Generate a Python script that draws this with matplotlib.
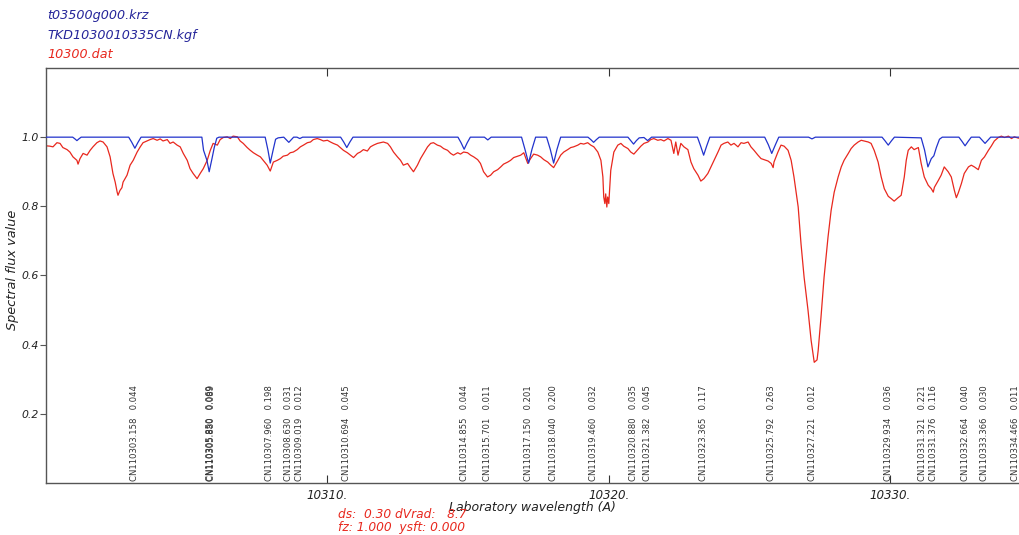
import matplotlib
matplotlib.use('Agg')
import matplotlib.pyplot as plt

plt.rcParams['font.family'] = ['DejaVu Sans']

red_wave = [
    10300.00, 10300.14, 10300.25, 10300.39, 10300.50, 10300.60, 10300.75, 10300.85, 10300.96, 10301.10,
    10301.14, 10301.21, 10301.32, 10301.46, 10301.57, 10301.67, 10301.81, 10301.92, 10302.03, 10302.17,
    10302.28, 10302.38, 10302.46, 10302.53, 10302.56, 10302.63, 10302.70, 10302.74, 10302.88, 10302.99,
    10303.10, 10303.24, 10303.35, 10303.45, 10303.59, 10303.70, 10303.81, 10303.95, 10304.06, 10304.16,
    10304.31, 10304.41, 10304.52, 10304.66, 10304.77, 10304.88, 10305.02, 10305.12, 10305.23, 10305.37,
    10305.48, 10305.59, 10305.73, 10305.84, 10305.94, 10306.09, 10306.19, 10306.30, 10306.44, 10306.55,
    10306.65, 10306.80, 10306.90, 10307.01, 10307.15, 10307.26, 10307.37, 10307.51, 10307.62, 10307.72,
    10307.86, 10307.97, 10308.08, 10308.22, 10308.33, 10308.43, 10308.58, 10308.68, 10308.79, 10308.93,
    10309.04, 10309.15, 10309.29, 10309.40, 10309.50, 10309.64, 10309.75, 10309.86, 10310.00, 10310.11,
    10310.21, 10310.36, 10310.46, 10310.57, 10310.71, 10310.82, 10310.93, 10311.07, 10311.17, 10311.28,
    10311.42, 10311.53, 10311.64, 10311.78, 10311.89, 10311.99, 10312.14, 10312.24, 10312.35, 10312.49,
    10312.60, 10312.70, 10312.85, 10312.95, 10313.06, 10313.20, 10313.31, 10313.42, 10313.56, 10313.67,
    10313.77, 10313.91, 10314.02, 10314.13, 10314.27, 10314.38, 10314.48, 10314.63, 10314.73, 10314.84,
    10314.98, 10315.09, 10315.20, 10315.34, 10315.44, 10315.55, 10315.69, 10315.80, 10315.91, 10316.05,
    10316.16, 10316.26, 10316.41, 10316.51, 10316.62, 10316.76, 10316.87, 10316.98, 10317.12, 10317.22,
    10317.33, 10317.47, 10317.58, 10317.69, 10317.83, 10317.94, 10318.04, 10318.19, 10318.29, 10318.40,
    10318.54, 10318.65, 10318.75, 10318.90, 10319.00, 10319.11, 10319.25, 10319.36, 10319.47, 10319.61,
    10319.72, 10319.79, 10319.82, 10319.86, 10319.89, 10319.93, 10319.96, 10320.00, 10320.04, 10320.07,
    10320.18, 10320.32, 10320.43, 10320.53, 10320.68, 10320.78, 10320.89, 10321.03, 10321.14, 10321.25,
    10321.39, 10321.49, 10321.60, 10321.74, 10321.85, 10321.96, 10322.10, 10322.21, 10322.31, 10322.38,
    10322.46, 10322.56, 10322.67, 10322.81, 10322.92, 10323.02, 10323.17, 10323.27, 10323.38, 10323.52,
    10323.63, 10323.74, 10323.88, 10323.99, 10324.09, 10324.23, 10324.34, 10324.45, 10324.59, 10324.70,
    10324.80, 10324.95, 10325.05, 10325.16, 10325.30, 10325.41, 10325.52, 10325.66, 10325.77, 10325.84,
    10325.87, 10326.01, 10326.12, 10326.23, 10326.37, 10326.48, 10326.58, 10326.73, 10326.83, 10326.94,
    10327.08, 10327.19, 10327.30, 10327.40, 10327.44, 10327.54, 10327.65, 10327.79, 10327.90, 10328.01,
    10328.15, 10328.26, 10328.36, 10328.51, 10328.61, 10328.72, 10328.86, 10328.97, 10329.07, 10329.22,
    10329.32, 10329.43, 10329.57, 10329.68, 10329.79, 10329.93, 10330.04, 10330.14, 10330.28, 10330.39,
    10330.50, 10330.57, 10330.64, 10330.75, 10330.85, 10331.00, 10331.10, 10331.21, 10331.35, 10331.46,
    10331.53, 10331.57, 10331.71, 10331.81, 10331.92, 10332.06, 10332.17, 10332.28, 10332.35, 10332.42,
    10332.53, 10332.63, 10332.78, 10332.88, 10332.99, 10333.13, 10333.24, 10333.35, 10333.49, 10333.59,
    10333.70, 10333.84, 10333.95, 10334.06, 10334.20, 10334.31, 10334.41, 10334.56, 10334.70, 10334.85,
    10335.00,
]
red_flux = [
    0.975, 0.974, 0.972, 0.984, 0.982, 0.970, 0.964, 0.957, 0.943, 0.933,
    0.922, 0.938, 0.953, 0.948, 0.962, 0.972, 0.984, 0.989, 0.986, 0.972,
    0.943, 0.895, 0.870, 0.841, 0.832, 0.846, 0.854, 0.870, 0.890, 0.919,
    0.933, 0.957, 0.972, 0.984, 0.989, 0.993, 0.996, 0.991, 0.995, 0.989,
    0.993, 0.982, 0.986, 0.977, 0.972, 0.953, 0.933, 0.909, 0.895, 0.880,
    0.895, 0.909, 0.933, 0.962, 0.982, 0.977, 0.993, 0.999, 1.001, 0.996,
    1.003, 1.001, 0.989, 0.982, 0.970, 0.962, 0.955, 0.948, 0.943, 0.933,
    0.919, 0.902, 0.928, 0.933, 0.938, 0.945, 0.948, 0.955, 0.957, 0.964,
    0.972, 0.977, 0.984, 0.986, 0.993, 0.996, 0.993, 0.989, 0.991, 0.986,
    0.982, 0.977, 0.970, 0.962, 0.955, 0.948, 0.941, 0.953, 0.957, 0.964,
    0.960, 0.972, 0.977, 0.982, 0.984, 0.986, 0.982, 0.972, 0.957, 0.943,
    0.933, 0.919, 0.924, 0.912, 0.900, 0.919, 0.938, 0.953, 0.972, 0.982,
    0.984, 0.977, 0.974, 0.967, 0.962, 0.953, 0.948, 0.955, 0.951, 0.957,
    0.955, 0.948, 0.943, 0.935, 0.924, 0.900, 0.885, 0.890, 0.900, 0.906,
    0.914, 0.922, 0.928, 0.933, 0.941, 0.945, 0.948, 0.955, 0.924, 0.938,
    0.951, 0.948, 0.943, 0.935, 0.928, 0.919, 0.912, 0.933, 0.948, 0.957,
    0.964, 0.970, 0.972, 0.977, 0.982, 0.980, 0.984, 0.977, 0.972, 0.957,
    0.933, 0.885, 0.827, 0.808, 0.836, 0.798, 0.827, 0.808, 0.866, 0.904,
    0.957, 0.977, 0.982, 0.974, 0.967, 0.957, 0.951, 0.964, 0.974, 0.982,
    0.986, 0.993, 0.996, 0.991, 0.993, 0.989, 0.996, 0.991, 0.953, 0.986,
    0.948, 0.982, 0.972, 0.964, 0.928, 0.909, 0.890, 0.873, 0.880, 0.895,
    0.914, 0.933, 0.957, 0.977, 0.982, 0.986, 0.977, 0.982, 0.972, 0.984,
    0.982, 0.986, 0.972, 0.962, 0.948, 0.938, 0.935, 0.931, 0.924, 0.912,
    0.928, 0.957, 0.977, 0.974, 0.962, 0.933, 0.885, 0.798, 0.692, 0.595,
    0.499, 0.412, 0.349, 0.356, 0.383, 0.479, 0.595, 0.711, 0.788, 0.841,
    0.885, 0.914, 0.933, 0.953, 0.967, 0.977, 0.986, 0.991, 0.989, 0.986,
    0.982, 0.962, 0.928, 0.885, 0.851, 0.829, 0.822, 0.815, 0.825, 0.832,
    0.885, 0.933, 0.962, 0.972, 0.964, 0.970, 0.924, 0.885, 0.861, 0.851,
    0.841, 0.855, 0.875, 0.890, 0.914, 0.900, 0.885, 0.846, 0.825, 0.839,
    0.866, 0.895, 0.914, 0.919, 0.914, 0.906, 0.933, 0.943, 0.962, 0.974,
    0.989, 0.999, 1.003, 0.999, 1.003, 0.996, 1.001, 0.997, 1.002, 0.998,
    1.000,
]

# synthetic spectrum (TKD1030010335CN.kgf)
blue_wave = [
    10300.00, 10300.95, 10301.03, 10301.10, 10301.17, 10301.25,
    10302.94, 10303.05, 10303.16, 10303.27, 10303.38,
    10305.54, 10305.60, 10305.72, 10305.80, 10305.90, 10305.98, 10306.07, 10306.15,
    10307.79, 10307.89, 10307.97, 10308.07, 10308.16, 10308.25,
    10308.45, 10308.63, 10308.80, 10308.92, 10309.02, 10309.12,
    10310.47, 10310.58, 10310.69, 10310.80, 10310.91,
    10314.64, 10314.75, 10314.86, 10314.97, 10315.08,
    10315.58, 10315.70, 10315.82,
    10316.90, 10317.02, 10317.15, 10317.27, 10317.40,
    10317.79, 10317.92, 10318.04, 10318.16, 10318.29,
    10319.26, 10319.36, 10319.46, 10319.56, 10319.66,
    10320.68, 10320.78, 10320.88, 10320.98, 10321.08,
    10321.25, 10321.38, 10321.52,
    10323.15, 10323.26, 10323.37, 10323.48, 10323.59,
    10325.54, 10325.67, 10325.79, 10325.92, 10326.04,
    10327.10, 10327.22, 10327.34,
    10329.71, 10329.82, 10329.93, 10330.04, 10330.15,
    10331.10, 10331.22, 10331.34, 10331.46, 10331.55, 10331.64, 10331.75, 10331.85,
    10332.44, 10332.55, 10332.66, 10332.77, 10332.88,
    10333.17, 10333.27, 10333.37, 10333.47, 10333.57,
    10335.00,
]
blue_flux = [
    1.000, 1.000, 0.995, 0.990, 0.995, 1.000,
    1.000, 0.985, 0.968, 0.985, 1.000,
    1.000, 0.962, 0.933, 0.900, 0.938, 0.970, 0.997, 1.000,
    1.000, 0.962, 0.925, 0.962, 0.994, 0.998,
    1.000, 0.985, 1.000, 1.000, 0.996, 1.000,
    1.000, 0.986, 0.970, 0.986, 1.000,
    1.000, 0.984, 0.965, 0.984, 1.000,
    1.000, 0.992, 1.000,
    1.000, 0.965, 0.925, 0.965, 1.000,
    1.000, 0.965, 0.925, 0.965, 1.000,
    1.000, 0.993, 0.985, 0.993, 1.000,
    1.000, 0.990, 0.980, 0.990, 0.998,
    0.999, 0.990, 1.000,
    1.000, 0.975, 0.948, 0.975, 1.000,
    1.000, 0.978, 0.953, 0.978, 1.000,
    1.000, 0.995, 1.000,
    1.000, 0.989, 0.977, 0.989, 1.000,
    0.998, 0.963, 0.914, 0.938, 0.946, 0.970, 0.994, 1.000,
    1.000, 0.988, 0.975, 0.988, 1.000,
    1.000, 0.991, 0.982, 0.991, 1.000,
    1.000,
]

# line list markers
line_wave = [10303.158, 10305.850, 10305.880, 10307.960, 10308.630, 10309.019, 10310.694,
             10314.855, 10315.701, 10317.150, 10318.040, 10319.460, 10320.880, 10321.382,
             10323.365, 10325.792, 10327.221, 10329.934, 10331.321, 10331.376, 10332.664,
             10333.366, 10334.466]
line_val = [0.044, 0.069, 0.089, 0.198, 0.031, 0.012, 0.045,
            0.044, 0.011, 0.201, 0.200, 0.032, 0.035, 0.045,
            0.117, 0.263, 0.012, 0.036, 0.221, 0.116, 0.040,
            0.030, 0.011]

xticks = [10310, 10320, 10330]
xtick_labels = ['10310.', '10320.', '10330.']
yticks = [0.2, 0.4, 0.6, 0.8, 1.0]
ytick_labels = ['0.2', '0.4', '0.6', '0.8', '1.0']

BLUE = '#2233cc'
RED = '#e8281e'
TXT_BLUE = '#25259a'
W, H = 1019, 535

fig = plt.figure(figsize=(W / 100, H / 100), dpi=100)
ax = fig.add_axes([0.0451, 0.0972, 0.9666, 0.7757])

ax.plot(blue_wave, blue_flux, color=BLUE, lw=0.9, zorder=3)
ax.plot(red_wave, red_flux, color=RED, lw=0.9, zorder=2)

ax.set_xlim(10300, 10335)
ax.set_ylim(0, 1.2)

ax.set_xticks(xticks)
ax.set_xticklabels(xtick_labels, style='italic', fontsize=8.6, color='#222222')
ax.set_yticks(yticks)
ax.set_yticklabels(ytick_labels, style='italic', fontsize=7.8, color='#222222')
ax.tick_params(axis='x', direction='in', length=6, top=True, pad=4, color='#333333')
ax.tick_params(axis='y', direction='out', length=4, pad=1, color='#555555')
for sp in ax.spines.values():
    sp.set_color('#555555')
    sp.set_linewidth(1.0)

# line identification labels standing on the bottom axis
for w, v in zip(line_wave, line_val):
    ha = 'center'
    if w == 10331.321:
        ha = 'right'
    elif w == 10331.376:
        ha = 'left'
    ax.text(w, 0.005, f'CN1{w:.3f}   {v:.3f}', rotation=90, ha=ha, va='bottom',
            fontsize=6.1, color='#333333', clip_on=False)

fig.text(13 / W, 1 - 270 / H, 'Spectral flux value', style='italic', rotation=90,
         fontsize=9.3, ha='center', va='center', color='#222222')

fig.text(47 / W, 1 - 15 / H, 't03500g000.krz', color=TXT_BLUE, style='italic',
         fontsize=9.2, va='center')
fig.text(47 / W, 1 - 35 / H, 'TKD1030010335CN.kgf', color=TXT_BLUE, style='italic',
         fontsize=9.2, va='center')
fig.text(47 / W, 1 - 55 / H, '10300.dat', color=RED, style='italic',
         fontsize=9.2, va='center')

fig.text(532 / W, 1 - 508 / H, 'Laboratory wavelength (A)', style='italic',
         fontsize=9, ha='center', va='center', color='#222222')
fig.text(338 / W, 1 - 515 / H, 'ds:  0.30 dVrad:   8.7', style='italic',
         fontsize=8.8, ha='left', va='center', color=RED)
fig.text(338 / W, 1 - 528 / H, 'fz: 1.000  ysft: 0.000', style='italic',
         fontsize=8.8, ha='left', va='center', color=RED)

fig.savefig('out.png', dpi=100)
